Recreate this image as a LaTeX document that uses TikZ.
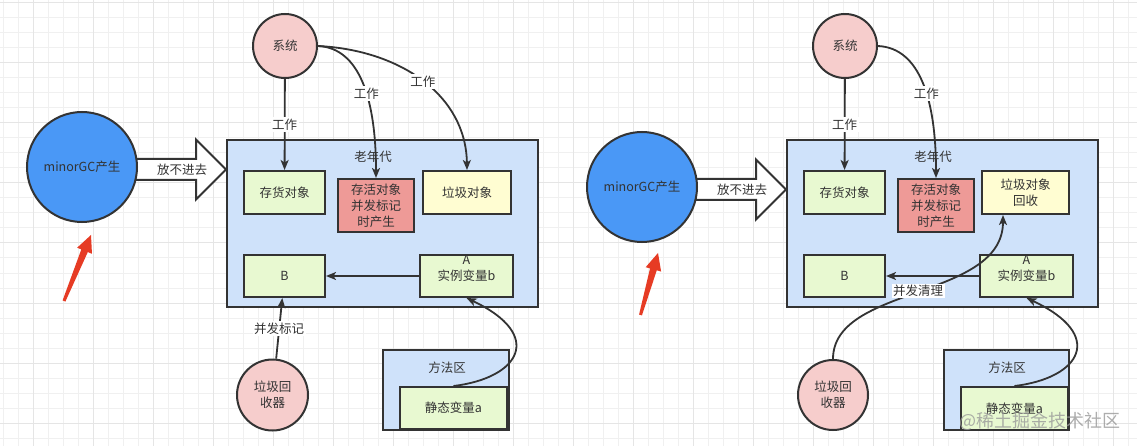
\documentclass[tikz,border=0pt]{standalone}
\usepackage{fontspec}
\setmainfont{Noto Sans CJK SC}
\usetikzlibrary{positioning,calc,backgrounds,arrows.meta}
\definecolor{inkgray}{HTML}{333333}
\definecolor{oldblue}{HTML}{CFE2FA}
\definecolor{objgreen}{HTML}{E8F9D1}
\definecolor{livered}{HTML}{EE9A97}
\definecolor{trashyellow}{HTML}{FFFDD2}
\definecolor{pinkfill}{HTML}{F6CDCC}
\definecolor{gcblue}{HTML}{4A98F6}
\definecolor{markred}{HTML}{E63B24}
\tikzset{
    region/.style={rectangle, draw=inkgray, fill=oldblue, line width=2pt},
    objbox/.style={rectangle, draw=inkgray, fill=objgreen, line width=2pt, align=center, inner sep=2pt, minimum height=43pt},
    circnode/.style={circle, draw=inkgray, fill=pinkfill, line width=2pt, align=center, inner sep=1pt},
    flow/.style={draw=inkgray, line width=1.8pt, -{Stealth[length=10pt, width=8pt, inset=2.5pt]}},
    tag/.style={fill=white, inner sep=1.5pt},
    fatarrow/.style={draw=inkgray, fill=white, line width=2pt, line join=miter},
    gridminor/.style={draw=black!6, line width=1pt},
    gridmajor/.style={draw=black!10, line width=1pt},
    redmark/.style={fill=markred}
}
\newcommand{\redpointer}[2]{% tail, tip
    \coordinate (rpP) at #1;
    \coordinate (rpT) at #2;
    \coordinate (rpB) at ($(rpT)!17pt!(rpP)$);
    \fill[redmark] ($(rpP)!1.5pt!90:(rpT)$) -- ($(rpB)!3.5pt!90:(rpT)$) -- ($(rpB)!8pt!90:(rpT)$) -- (rpT)
        -- ($(rpB)!8pt!-90:(rpT)$) -- ($(rpB)!3.5pt!-90:(rpT)$) -- ($(rpP)!1.5pt!-90:(rpT)$) -- cycle;
}

\begin{document}
\begin{tikzpicture}[x=1pt, y=-1pt, every node/.style={font=\fontsize{12.5}{16}\selectfont, text=inkgray}]
    \useasboundingbox (0,0) rectangle (1137,446);
    % grid paper
    \begin{scope}[on background layer]
        \fill[white] (0,0) rectangle (1137,446);
        \foreach \x in {3,18,...,1137} \draw[gridminor] (\x,0) -- (\x,446);
        \foreach \y in {3,18,...,446} \draw[gridminor] (0,\y) -- (1137,\y);
        \foreach \x in {33,93,...,1137} \draw[gridmajor] (\x,0) -- (\x,446);
        \foreach \y in {3,63,...,446} \draw[gridmajor] (0,\y) -- (1137,\y);
    \end{scope}

    % ---- left: concurrent marking ----
    \node[circle, draw=inkgray, fill=gcblue, line width=2pt, minimum size=110pt] (minorL) at (82,167) {minorGC产生};
    \node[region, minimum width=311pt, minimum height=167pt] (oldL) at (382.5,223.5) {};
    \node (titleL) at (373,157) {老年代};
    \node[objbox, minimum width=81pt] (storeL) at (284.5,192.5) {存货对象};
    \node[objbox, fill=livered, minimum width=76pt, minimum height=53pt] (liveL) at (376,205.5) {存活对象\\并发标记\\时产生};
    \node[objbox, fill=trashyellow, minimum width=88pt] (trashL) at (467,192.5) {垃圾对象};
    \node[objbox, minimum width=81pt, minimum height=42pt] (bL) at (284.5,276) {B};
    \node[objbox, minimum width=93pt, minimum height=42pt, label={[anchor=north, inner sep=0pt, yshift=-1pt]north:A}] (aL) at (466.5,276) {实例变量b};
    \node[circnode, minimum size=71pt] (collL) at (272.5,395) {垃圾回\\收器};
    \node[region, minimum width=126pt, minimum height=80pt] (methodL) at (446,390) {};
    \node (mtitleL) at (447,368) {方法区};
    \node[objbox, minimum width=107pt, minimum height=42pt] (staticL) at (453.5,408) {静态变量a};
    \node[circnode, minimum size=64pt] (sysL) at (285,46) {系统};

    \coordinate (tailL) at ($(minorL.center)+(0,2.5)$);
    \coordinate (tipL) at (tailL -| oldL.west);
    \begin{scope}[on background layer]
        \draw[fatarrow] ($(tailL)+(0,-10.5)$) -- ($(tipL)+(-30,-10.5)$) -- ($(tipL)+(-30,-30)$) -- (tipL)
            -- ($(tipL)+(-30,30)$) -- ($(tipL)+(-30,10.5)$) -- ($(tailL)+(0,10.5)$) -- cycle;
    \end{scope}
    \node (pushL) at ($(tailL -| minorL.east)!0.5!(tipL)$) {放不进去};

    \draw[flow] (sysL) -- node[tag] {工作} (storeL);
    \draw[flow] (sysL.east) .. controls (360,48) and (376,100) .. (liveL.north) node[tag, pos=0.57] {工作};
    \draw[flow] (sysL.east) .. controls (400,50) and (466,95) .. (trashL.north) node[tag, pos=0.5] {工作};
    \draw[flow] (aL) -- (bL);
    \draw[flow] (collL) -- node[tag] {并发标记} (bL);
    \draw[flow] (staticL.north) .. controls (520,378) and (545,335) .. (aL.south);
    \redpointer{(64,301)}{(91,235)}

    % ---- right: concurrent sweeping ----
    \node[circle, draw=inkgray, fill=gcblue, line width=2pt, minimum size=110pt] (minorR) at (642,187) {minorGC产生};
    \node[region, minimum width=311pt, minimum height=167pt] (oldR) at (942.5,223.5) {};
    \node (titleR) at (933,157) {老年代};
    \node[objbox, minimum width=81pt] (storeR) at (844.5,192.5) {存货对象};
    \node[objbox, fill=livered, minimum width=76pt, minimum height=53pt] (liveR) at (936,205.5) {存活对象\\并发标记\\时产生};
    \node[objbox, fill=trashyellow, minimum width=87pt] (trashR) at (1025.5,192.5) {垃圾对象\\回收};
    \node[objbox, minimum width=81pt, minimum height=42pt] (bR) at (844.5,276) {B};
    \node[objbox, minimum width=93pt, minimum height=42pt, label={[anchor=north, inner sep=0pt, yshift=-1pt]north:A}] (aR) at (1026.5,276) {实例变量b};
    \node[circnode, minimum size=70pt] (collR) at (833,395) {垃圾回\\收器};
    \node[region, minimum width=125pt, minimum height=80pt] (methodR) at (1006.5,390) {};
    \node (mtitleR) at (1007,368) {方法区};
    \node[objbox, minimum width=107pt, minimum height=43pt] (staticR) at (1014.5,408.5) {静态变量a};
    \node[circnode, minimum size=64pt] (sysR) at (845,46) {系统};

    \coordinate (tailR) at ($(minorR.center)+(0,2.5)$);
    \coordinate (tipR) at (tailR -| oldR.west);
    \begin{scope}[on background layer]
        \draw[fatarrow] ($(tailR)+(0,-10.5)$) -- ($(tipR)+(-30,-10.5)$) -- ($(tipR)+(-30,-30)$) -- (tipR)
            -- ($(tipR)+(-30,30)$) -- ($(tipR)+(-30,10.5)$) -- ($(tailR)+(0,10.5)$) -- cycle;
    \end{scope}
    \node (pushR) at ($(tailR -| minorR.east)!0.5!(tipR)$) {放不进去};

    \draw[flow] (sysR) -- node[tag] {工作} (storeR);
    \draw[flow] (sysR.east) .. controls (920,48) and (936,100) .. (liveR.north) node[tag, pos=0.57] {工作};
    \draw[flow] (aR) -- (bR);
    \draw[flow] (collR.north) .. controls (833,285) and (1003,300) .. ([xshift=-22.5pt]trashR.south) node[tag, pos=0.5] {并发清理};
    \draw[flow] (staticR.north) .. controls (1081,378) and (1106,335) .. (aR.south);
    \redpointer{(640.5,315)}{(658,253)}

    \node[text=black!40, opacity=0.8, font=\fontsize{18}{20}\selectfont, anchor=east] (mark) at (1124,421) {@稀土掘金技术社区};
\end{tikzpicture}
\end{document}
